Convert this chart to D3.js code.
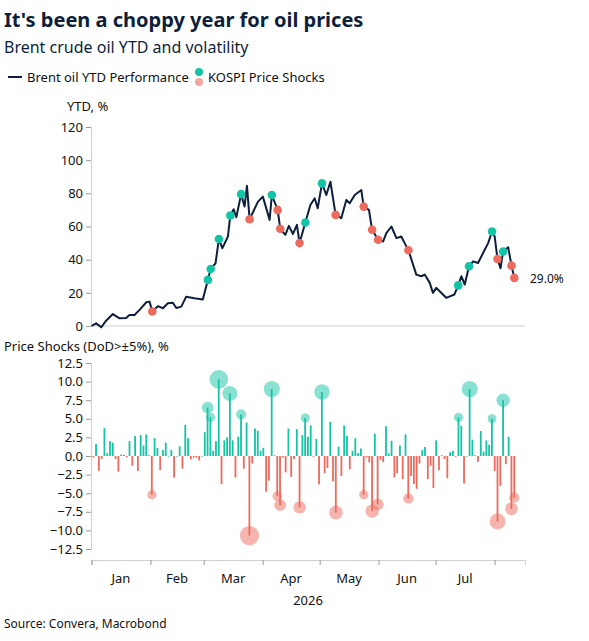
<!DOCTYPE html>
<html><head><meta charset="utf-8">
<script src="https://cdn.jsdelivr.net/npm/d3@7"></script>
<style>body{margin:0;background:#fff;font-family:"Noto Sans",sans-serif;}</style>
</head><body><svg id="c" width="589" height="641"></svg>
<script>
// Line: [day offset (trading-calendar units), YTD %]
const lineDays = [0,2.5,5.2,7.8,11.4,15,18.5,20.3,23,25.7,29.3,31,32.5,35.5,38.2,40.8,43.5,45.3,48,50.6,55,59.5,62.2,63.7,66.3,68.1,69.9,72.9,74.2,76,77.4,80,81.8,83.1,84.5,89,91.6,95.2,96.4,99.5,100.9,103.6,105.5,107.7,109.8,111.2,114.3,117,119.3,120.9,123.2,125.5,127.7,130.5,133.5,136.2,138,140.7,144.2,145.5,148.3,150,153.2,155.9,157.6,160.3,163,165.6,167.4,169.4,173.6,176.3,178.1,180.8,182.5,184.3,186.1,189.6,194,196,197.7,199.5,201.8,204,206.6,209.3,212,214.1,215.5,217,218.6,220,222.7,224.5,226];
const lineVals = [0,1.6,-0.8,3.2,7.2,4.6,4.8,6.6,6.6,9.7,14.3,14.7,8.7,12,10.7,13.7,14,10.9,11.7,17.7,16.7,16,27.8,34.4,37.8,52.5,46.9,53.9,66.6,70.4,65.6,79.5,72,84.5,64.4,75,78,64,79,70,58.6,55,60.4,55.5,61,50,62.4,73,77,71,86,79,87,67,65,76,74,79,82,72,70,58,52,51,56,60,53,54,50,45.7,31,30,31,26,20,23,21,17,19,24.5,30,25,36,39,38,44,50,57,54,40.4,34.8,44.9,47.5,36.4,29];
const shockDays = [32.5,62.2,63.7,68.1,74.2,80,84.5,96.4,99.5,100.9,111.2,114.3,123.2,130.5,145.5,150,153.2,169.4,196,201.8,214.1,217,220,224.5,226];
const shockVals = [8.7,27.8,34.4,52.5,66.6,79.5,64.4,79,70,58.6,50,62.4,86,67,72,58,52,45.7,24.5,36,57,40.4,44.9,36.4,29];
const shockDir  = ["d","u","u","u","u","u","d","u","d","d","d","u","u","d","d","d","d","d","u","u","u","d","u","d","d"];
const barVals = [-0.2,1.6,-2.0,-0.4,3.75,0.4,2.0,1.8,-0.4,-2.1,0.2,0.15,-0.2,2.0,-1.3,2.7,-2.0,2.8,1.4,2.9,0.1,-5.2,2.4,1.1,-1.9,0.8,1.8,0,0.8,-2.9,0,1.3,-1.7,4.2,2.4,-0.45,-0.2,-0.2,-0.6,0,3.2,6.5,5.2,0.7,2.0,10.3,-3.8,2.1,2.5,8.4,2.1,-2.9,2.6,5.6,-1.7,4.5,-10.7,-1.0,3.7,3.4,0.7,1.1,-4.8,-3.3,9.0,0.1,-5.4,-6.6,-0.2,-2.2,3.7,-2.8,-0.4,3.6,-6.9,2.8,5.1,2.6,4.1,-0.1,2.3,-3.8,8.6,-2.3,-1.6,4.6,-3.4,-7.6,1.25,-2.7,4.1,2.7,-1.8,0.7,2.4,0.4,1.0,-5.2,-0.2,-0.85,-7.4,3.0,-6.5,-0.5,-0.8,4.0,0.35,2.05,-2.9,-2.3,1.4,-3.1,2.9,-5.7,-2.7,-3.75,-4.4,-1.0,0.8,1.2,-3.1,-1.3,-4.3,2.1,-1.9,0.1,-0.4,-3.0,0.5,0.7,-0.1,5.2,4.05,-3.7,0,9.0,2.2,0.1,-0.8,3.35,0.6,2.1,1.5,5.0,-2.0,-8.8,-4.0,7.5,-1.1,2.6,-7.1,-5.6];
const yTicksTop = [0,20,40,60,80,100,120];
const yTicksBot = [-12.5,-10,-7.5,-5,-2.5,0,2.5,5,7.5,10,12.5];
const months = ["Jan","Feb","Mar","Apr","May","Jun","Jul"];

const UP="#14c4a6", DN="#ec6b5e", NAVY="#0d1f3c", GREY="#d0d0d0";
const svg = d3.select("#c");
const day0 = new Date(2026,0,1);
const toDate = d => new Date(day0.getTime()+d*0.984*864e5);
const x = d3.scaleTime().domain([new Date(2026,0,1), new Date(2026,7,17)]).range([91.5,525]);
const yT = d3.scaleLinear().domain([0,120]).range([326,127]);
const yB = d3.scaleLinear().domain([-12.5,12.5]).range([549,363]);

svg.append("text").attr("x",4).attr("y",27).attr("font-size",20).attr("font-weight",700).attr("fill",NAVY).text("It's been a choppy year for oil prices");
svg.append("text").attr("x",4).attr("y",53).attr("font-size",16).attr("fill",NAVY).text("Brent crude oil YTD and volatility");
svg.append("line").attr("x1",8).attr("x2",22).attr("y1",77).attr("y2",77).attr("stroke",NAVY).attr("stroke-width",2);
svg.append("text").attr("x",27).attr("y",82).attr("font-size",13).attr("fill","#111").text("Brent oil YTD Performance");
svg.append("circle").attr("cx",199).attr("cy",72).attr("r",4).attr("fill",UP);
svg.append("circle").attr("cx",199).attr("cy",82).attr("r",4).attr("fill","#f3a69e");
svg.append("text").attr("x",208).attr("y",82).attr("font-size",13).attr("fill","#111").text("KOSPI Price Shocks");

svg.append("text").attr("x",67).attr("y",111).attr("font-size",13).attr("fill","#111").text("YTD, %");
const gT = svg.append("g").attr("transform","translate(91,0)").call(d3.axisLeft(yT).tickValues(yTicksTop).tickSize(5).tickPadding(3));
gT.select(".domain").attr("stroke",GREY);
gT.selectAll(".tick line").attr("stroke","#999");
gT.selectAll("text").attr("font-size",13).attr("font-family","Noto Sans").attr("fill","#111");
svg.append("line").attr("x1",91).attr("x2",525).attr("y1",326).attr("y2",326).attr("stroke",GREY);
const pts = lineDays.map((d,i)=>[toDate(d),lineVals[i]]);
svg.append("path").datum(pts).attr("fill","none").attr("stroke",NAVY).attr("stroke-width",2).attr("stroke-linejoin","round")
  .attr("d",d3.line().x(p=>x(p[0])).y(p=>yT(p[1])));
svg.selectAll(".sd").data(shockDays).join("circle").attr("cx",d=>x(toDate(d))).attr("cy",(d,i)=>yT(shockVals[i])).attr("r",4.3)
  .attr("fill",(d,i)=>shockDir[i]==="u"?UP:DN);
svg.append("text").attr("x",530).attr("y",283).attr("font-size",12).attr("fill","#111").text(lineVals[lineVals.length-1].toFixed(1)+"%");

svg.append("text").attr("x",4).attr("y",351).attr("font-size",13).attr("fill","#111").text("Price Shocks (DoD>±5%), %");
const gB = svg.append("g").attr("transform","translate(91,0)").call(d3.axisLeft(yB).tickValues(yTicksBot).tickSize(5).tickPadding(3).tickFormat(d3.format(".1f")));
gB.select(".domain").attr("stroke",GREY);
gB.selectAll(".tick line").attr("stroke","#999");
gB.selectAll("text").attr("font-size",13).attr("font-family","Noto Sans").attr("fill","#111");
const xi = d3.scaleLinear().domain([0,barVals.length-1]).range([x(toDate(1)),x(toDate(226))]);
const bub = barVals.map((v,i)=>({v,i})).filter(d=>Math.abs(d.v)>=5);
svg.selectAll(".bb").data(bub).join("circle").attr("cx",d=>xi(d.i)).attr("cy",d=>yB(d.v)).attr("r",d=>Math.abs(d.v)*0.9)
  .attr("fill",d=>d.v>0?UP:DN).attr("opacity",0.5);
svg.selectAll(".bar").data(barVals).join("rect").attr("x",(v,i)=>xi(i)-1).attr("width",1.8)
  .attr("y",v=>yB(Math.max(0,v))).attr("height",v=>Math.max(0.6,Math.abs(yB(v)-yB(0))))
  .attr("fill",v=>v>=0?UP:DN);
const gX = svg.append("g").attr("transform","translate(0,560)").call(d3.axisBottom(x).tickValues(d3.range(0,8).map(m=>new Date(2026,m,1))).tickSize(5).tickFormat(""));
gX.select(".domain").attr("stroke",GREY);
gX.selectAll(".tick line").attr("stroke","#999");
months.forEach((m,i)=>{
  const mid = new Date((new Date(2026,i,1).getTime()+new Date(2026,i+1,1).getTime())/2);
  svg.append("text").attr("x",x(mid)).attr("y",583).attr("text-anchor","middle").attr("font-size",13).attr("fill","#111").text(m);
});
svg.append("text").attr("x",308).attr("y",605).attr("text-anchor","middle").attr("font-size",13).attr("fill","#111").text("2026");
svg.append("text").attr("x",4).attr("y",628).attr("font-size",12).attr("fill","#111").text("Source: Convera, Macrobond");
</script></body></html>
